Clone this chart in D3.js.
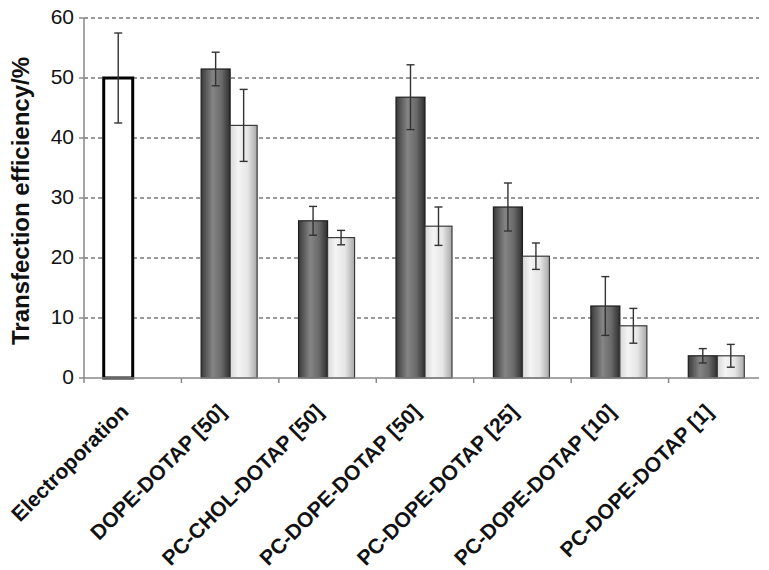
<!DOCTYPE html>
<html>
<head>
<meta charset="utf-8">
<script src="https://cdn.jsdelivr.net/npm/d3@7"></script>
<style>
  body { margin: 0; background: #fff; }
  svg { font-family: "Liberation Sans", Arial, sans-serif; }
</style>
</head>
<body>
<svg id="chart"></svg>
<script>
const categories = [
  "Electroporation",
  "DOPE-DOTAP [50]",
  "PC-CHOL-DOTAP [50]",
  "PC-DOPE-DOTAP [50]",
  "PC-DOPE-DOTAP [25]",
  "PC-DOPE-DOTAP [10]",
  "PC-DOPE-DOTAP [1]",
];
// first bar of each group (Electroporation is the open bar)
const seriesA = [50, 51.5, 26.2, 46.8, 28.5, 12, 3.7];
const errorsA = [7.5, 2.8, 2.4, 5.4, 4.0, 4.9, 1.2];
// second bar of each group
const seriesB = [null, 42.1, 23.4, 25.3, 20.3, 8.7, 3.7];
const errorsB = [null, 6.0, 1.2, 3.2, 2.2, 2.9, 1.9];
const yTicks = [0, 10, 20, 30, 40, 50, 60];

const totalWidth = 769;
const totalHeight = 570;
const plot = { left: 84, right: 766, top: 18, bottom: 378, axisEnd: 759 };

const svg = d3.select("#chart").attr("width", totalWidth).attr("height", totalHeight);

const xScale = d3.scaleBand().domain(categories).range([plot.left, plot.right]).padding(0);
const yScale = d3.scaleLinear().domain([0, 60]).range([plot.bottom, plot.top]);
const barW = 29;

// gradients
const defs = svg.append("defs");
const darkGrad = defs.append("linearGradient").attr("id", "darkGrad")
  .attr("x1", "0%").attr("x2", "100%").attr("y1", "0%").attr("y2", "0%");
[["0%", "#3a3a3a"], ["40%", "#858585"], ["70%", "#6a6a6a"], ["100%", "#2e2e2e"]]
  .forEach(([o, c]) => darkGrad.append("stop").attr("offset", o).attr("stop-color", c));
const lightGrad = defs.append("linearGradient").attr("id", "lightGrad")
  .attr("x1", "0%").attr("x2", "100%").attr("y1", "0%").attr("y2", "0%");
[["0%", "#d8d8d8"], ["30%", "#f4f4f4"], ["65%", "#e6e6e6"], ["100%", "#a8a8a8"]]
  .forEach(([o, c]) => lightGrad.append("stop").attr("offset", o).attr("stop-color", c));

// gridlines
svg.append("g")
  .selectAll("line")
  .data(yTicks.filter((d) => d > 0))
  .enter()
  .append("line")
  .attr("x1", plot.left)
  .attr("x2", plot.axisEnd)
  .attr("y1", (d) => yScale(d))
  .attr("y2", (d) => yScale(d))
  .attr("stroke", "#333")
  .attr("stroke-width", 1.1)
  .attr("stroke-dasharray", "4,3");

// bars
const bars = svg.append("g");
categories.forEach((cat, i) => {
  const cx = xScale(cat) + xScale.bandwidth() / 2;
  if (i === 0) {
    bars.append("rect")
      .attr("x", cx - barW)
      .attr("y", yScale(seriesA[i]))
      .attr("width", barW)
      .attr("height", yScale(0) - yScale(seriesA[i]))
      .attr("fill", "#fff")
      .attr("stroke", "#000")
      .attr("stroke-width", 3);
  } else {
    bars.append("rect")
      .attr("x", cx - barW)
      .attr("y", yScale(seriesA[i]))
      .attr("width", barW)
      .attr("height", yScale(0) - yScale(seriesA[i]))
      .attr("fill", "url(#darkGrad)")
      .attr("stroke", "#1e1e1e")
      .attr("stroke-width", 1.2);
    bars.append("rect")
      .attr("x", cx)
      .attr("y", yScale(seriesB[i]))
      .attr("width", barW - 2)
      .attr("height", yScale(0) - yScale(seriesB[i]))
      .attr("fill", "url(#lightGrad)")
      .attr("stroke", "#3a3a3a")
      .attr("stroke-width", 1.2);
  }
});

// error bars
const errG = svg.append("g").attr("stroke", "#333").attr("stroke-width", 1.4);
const drawErr = (x, v, e) => {
  errG.append("line").attr("x1", x).attr("x2", x).attr("y1", yScale(v + e)).attr("y2", yScale(v - e));
  errG.append("line").attr("x1", x - 4).attr("x2", x + 4).attr("y1", yScale(v + e)).attr("y2", yScale(v + e));
  errG.append("line").attr("x1", x - 4).attr("x2", x + 4).attr("y1", yScale(v - e)).attr("y2", yScale(v - e));
};
categories.forEach((cat, i) => {
  const cx = xScale(cat) + xScale.bandwidth() / 2;
  drawErr(cx - barW / 2, seriesA[i], errorsA[i]);
  if (seriesB[i] !== null) drawErr(cx + (barW - 2) / 2, seriesB[i], errorsB[i]);
});

// y axis
const yAxis = svg.append("g");
yAxis.append("line")
  .attr("x1", plot.left).attr("x2", plot.left)
  .attr("y1", plot.top).attr("y2", plot.bottom)
  .attr("stroke", "#888").attr("stroke-width", 1.5);
yAxis.selectAll(".ytick")
  .data(yTicks)
  .enter()
  .append("line")
  .attr("x1", plot.left - 5).attr("x2", plot.left)
  .attr("y1", (d) => yScale(d)).attr("y2", (d) => yScale(d))
  .attr("stroke", "#888").attr("stroke-width", 1.5);
yAxis.selectAll("text")
  .data(yTicks)
  .enter()
  .append("text")
  .attr("x", plot.left - 10)
  .attr("y", (d) => yScale(d))
  .attr("dy", "0.3em")
  .attr("text-anchor", "end")
  .attr("font-size", 21)
  .attr("fill", "#111")
  .text((d) => d);

// x axis
const xAxis = svg.append("g");
xAxis.append("line")
  .attr("x1", plot.left).attr("x2", plot.axisEnd)
  .attr("y1", plot.bottom).attr("y2", plot.bottom)
  .attr("stroke", "#888").attr("stroke-width", 1.5);
xAxis.selectAll(".xtick")
  .data(categories)
  .enter()
  .append("line")
  .attr("x1", (d) => xScale(d)).attr("x2", (d) => xScale(d))
  .attr("y1", plot.bottom).attr("y2", plot.bottom + 5)
  .attr("stroke", "#888").attr("stroke-width", 1.5);
xAxis.selectAll("text")
  .data(categories)
  .enter()
  .append("text")
  .attr("transform", (d) => {
    const cx = xScale(d) + xScale.bandwidth() / 2 - 3;
    return `translate(${cx},413) rotate(-45)`;
  })
  .attr("text-anchor", "end")
  .attr("font-size", 21)
  .attr("font-weight", "bold")
  .attr("fill", "#111")
  .text((d) => d);

// y axis title
svg.append("text")
  .attr("transform", "translate(29,201) rotate(-90)")
  .attr("text-anchor", "middle")
  .attr("font-size", 24)
  .attr("font-weight", "bold")
  .attr("fill", "#111")
  .text("Transfection efficiency/%");
</script>
</body>
</html>
